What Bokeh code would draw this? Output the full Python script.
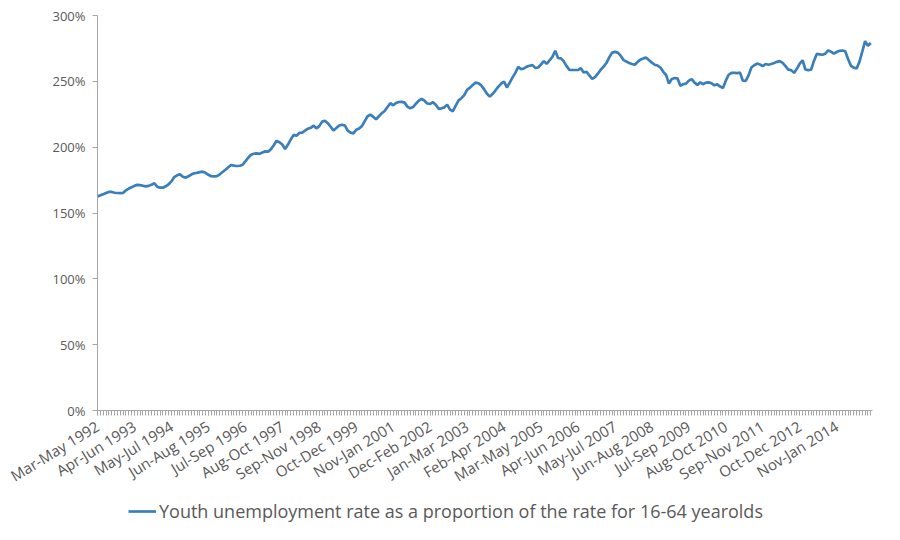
from bokeh.plotting import figure
from bokeh.layouts import column
from bokeh.models import Range1d, FixedTicker, PrintfTickFormatter, Legend, LegendItem, ColumnDataSource
from bokeh.embed import file_html
from bokeh.resources import INLINE

# Youth unemployment rate as % of the 16-64 rate, rolling quarters Mar-May 1992 onwards
values = [
    162.5, 163.4, 164.3, 165.2, 166.0, 166.0, 165.4, 165.2, 165.1, 165.2,
    167.2, 168.6, 169.6, 170.6, 171.4, 171.2, 170.7, 170.2, 170.6, 171.5,
    172.6, 170.0, 169.2, 169.2, 170.3, 171.8, 174.0, 177.3, 178.6, 179.4,
    177.5, 176.9, 177.9, 179.2, 180.2, 180.5, 181.0, 181.4, 180.5, 179.0,
    177.9, 177.8, 178.0, 179.4, 181.1, 182.8, 184.7, 186.5, 186.0, 185.7,
    185.9, 186.5, 189.2, 192.0, 194.2, 195.0, 195.3, 194.9, 196.0, 196.8,
    196.6, 198.5, 201.5, 204.8, 203.7, 202.0, 198.5, 202.0, 206.0, 209.3,
    208.7, 210.8, 211.0, 212.5, 214.0, 214.7, 216.3, 214.3, 216.0, 219.4,
    220.0, 218.2, 215.5, 212.7, 214.5, 216.4, 217.0, 216.5, 212.5, 211.0,
    210.5, 213.2, 214.2, 216.0, 219.8, 223.5, 224.7, 223.0, 221.2, 223.5,
    225.8, 227.5, 230.5, 233.4, 231.8, 233.6, 234.3, 234.4, 233.8, 230.8,
    229.5, 230.5, 233.0, 235.3, 236.6, 235.3, 233.2, 232.8, 234.2, 232.2,
    229.1, 229.5, 230.2, 232.3, 228.5, 227.3, 231.5, 235.5, 237.2, 239.5,
    243.5, 245.2, 247.2, 249.0, 248.5, 246.9, 243.9, 240.5, 238.4, 240.5,
    243.2, 246.0, 248.3, 249.8, 245.3, 249.0, 253.0, 256.6, 261.0, 259.2,
    259.8, 261.2, 261.8, 262.3, 260.2, 260.5, 262.8, 265.3, 263.3, 266.0,
    268.6, 273.2, 267.7, 267.4, 265.2, 261.5, 258.7, 258.6, 258.6, 258.6,
    260.0, 256.7, 257.3, 254.5, 251.9, 253.2, 255.8, 258.8, 261.2, 263.9,
    268.2, 271.8, 272.4, 271.8, 269.5, 266.3, 265.0, 264.0, 263.2, 262.6,
    264.8, 266.5, 267.4, 268.0, 266.0, 264.2, 262.6, 262.0, 260.5, 257.2,
    254.8, 248.3, 251.8, 252.5, 252.3, 246.6, 247.8, 248.3, 250.5, 251.7,
    249.0, 247.3, 249.2, 247.8, 249.0, 249.2, 248.5, 247.0, 247.7, 246.0,
    245.0, 250.5, 255.0, 256.5, 256.5, 256.3, 256.6, 250.5, 250.4, 254.5,
    260.5, 262.2, 263.5, 262.8, 261.5, 263.2, 262.6, 263.2, 264.0, 264.8,
    265.3, 264.0, 261.5, 258.9, 258.5, 256.4, 259.5, 263.5, 266.0, 259.0,
    258.5, 258.8, 265.5, 270.8, 270.5, 270.2, 271.0, 273.5, 272.5, 271.0,
    272.3, 273.2, 273.4, 272.8, 267.0, 261.8, 260.5, 259.8, 264.8, 272.5,
    280.5, 277.0, 279.1,
]

tick_labels = [
    "Mar-May 1992", "Apr-Jun 1993", "May-Jul 1994", "Jun-Aug 1995",
    "Jul-Sep 1996", "Aug-Oct 1997", "Sep-Nov 1998", "Oct-Dec 1999",
    "Nov-Jan 2001", "Dec-Feb 2002", "Jan-Mar 2003", "Feb-Apr 2004",
    "Mar-May 2005", "Apr-Jun 2006", "May-Jul 2007", "Jun-Aug 2008",
    "Jul-Sep 2009", "Aug-Oct 2010", "Sep-Nov 2011", "Oct-Dec 2012",
    "Nov-Jan 2014",
]
label_step = 13
y_ticks = [0, 50, 100, 150, 200, 250, 300]
series_name = "Youth unemployment rate as a proportion of the rate for 16-64 yearolds"

FONT = "Open Sans"
GREY = "#595959"
AXIS = "#a6a6a6"
BLUE = "#3b7fba"
LINE_W = 2.7

n = len(values)
xs = list(range(n))
src = ColumnDataSource(dict(x=xs, y=values))

p = figure(width=884, height=498, output_backend="svg", toolbar_location=None,
           x_range=Range1d(0, n - 1 + 0.6), y_range=Range1d(0, 300),
           min_border_left=97, min_border_right=12, min_border_top=15,
           min_border_bottom=88)
p.title.visible = False
p.outline_line_color = None
p.xgrid.visible = False
p.ygrid.visible = False
p.background_fill_color = "white"
p.border_fill_color = "white"

p.line("x", "y", source=src, line_color=BLUE, line_width=LINE_W)

major = [i * label_step for i in range(len(tick_labels))]
p.xaxis.ticker = FixedTicker(ticks=major, minor_ticks=xs)
p.xaxis.major_label_overrides = {m: lab for m, lab in zip(major, tick_labels)}
p.xaxis.major_label_orientation = 0.55
p.xaxis.major_label_text_font = FONT
p.xaxis.major_label_text_font_size = "15px"
p.xaxis.major_label_text_color = GREY
p.xaxis.axis_line_color = AXIS
p.xaxis.major_tick_line_color = AXIS
p.xaxis.minor_tick_line_color = AXIS
p.xaxis.major_tick_in = 0
p.xaxis.major_tick_out = 5
p.xaxis.minor_tick_in = 0
p.xaxis.minor_tick_out = 5
p.xaxis.major_label_standoff = 9

p.yaxis.ticker = FixedTicker(ticks=y_ticks, minor_ticks=[])
p.yaxis.formatter = PrintfTickFormatter(format="%d%%")
p.yaxis.major_label_text_font = FONT
p.yaxis.major_label_text_font_size = "13px"
p.yaxis.major_label_text_color = GREY
p.yaxis.axis_line_color = AXIS
p.yaxis.major_tick_line_color = AXIS
p.yaxis.major_tick_in = 0
p.yaxis.major_tick_out = 5
p.yaxis.minor_tick_line_color = None
p.yaxis.major_label_standoff = 7

# legend strip under the chart: same series, drawn out of this strip's view,
# only to supply the legend swatch
leg = figure(width=884, height=26, output_backend="svg", toolbar_location=None,
             x_range=Range1d(0, 1), y_range=Range1d(-2, -1),
             min_border=0)
leg.title.visible = False
leg.axis.visible = False
leg.grid.visible = False
leg.outline_line_color = None
leg.background_fill_color = "white"
leg.border_fill_color = "white"
swatch = leg.line("x", "y", source=src, line_color=BLUE, line_width=LINE_W)
legend = Legend(items=[LegendItem(label=series_name, renderers=[swatch])],
                orientation="horizontal", location=(31, 1),
                label_text_font=FONT, label_text_font_size="18px",
                label_text_color=GREY, glyph_width=28, glyph_height=18,
                border_line_color=None, background_fill_alpha=0,
                padding=2, margin=0, label_standoff=3)
leg.add_layout(legend, "center")

layout = column(p, leg, spacing=0)
open("out.html", "w").write(file_html(layout, INLINE))
